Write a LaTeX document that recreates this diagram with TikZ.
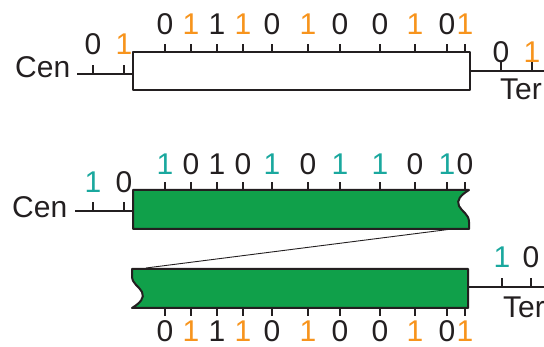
\documentclass[tikz,border=0pt]{standalone}
\usepackage{fontspec}
\setmainfont{Liberation Sans}
\definecolor{ink}{HTML}{231F20}
\definecolor{orng}{HTML}{F7941D}
\definecolor{tealc}{HTML}{1AA89E}
\definecolor{strand}{HTML}{10A04A}
\tikzset{
  lbl/.style={inner sep=0pt, anchor=base, text=ink, font=\fontsize{30}{32}\selectfont},
  bar/.style={draw=ink, line width=2pt, line join=round},
  wire/.style={draw=ink, line width=1.8pt},
  tick/.style={draw=ink, line width=1.5pt},
  link/.style={draw=ink, line width=0.9pt},
}
\begin{document}
\begin{tikzpicture}[x=1pt,y=-1pt]
\useasboundingbox (0,0) rectangle (544,347);

% ---------- top: single white strand ----------
\node[lbl, anchor=base west] (cenA) at (15,78) {Cen};
\node[lbl, anchor=base west] (terA) at (500,100) {Ter};
\coordinate (a0) at (77,74);
\draw[wire] (a0) -- (133,74);
\draw[wire] (470,71) -- (544,71);
\draw[bar, fill=white] (133,52) rectangle (470,90);
\foreach \x in {93,124} \draw[tick] (\x,74) -- (\x,65);
\node[lbl] (a1) at (93,55) {0};
\node[lbl, text=orng] (a2) at (124,55) {1};
\foreach \x in {501,532} \draw[tick] (\x,71) -- (\x,62);
\node[lbl] (a3) at (501,63) {0};
\node[lbl, text=orng] (a4) at (532,63) {1};
\foreach \x/\d/\c [count=\i] in {165/0/ink,191/1/orng,217/1/ink,243/1/orng,272/0/ink,308/1/orng,340/0/ink,380/0/ink,415/1/orng,447/0/ink,465/1/orng} {
  \draw[tick] (\x,52) -- (\x,44);
  \node[lbl, text=\c] (ta\i) at (\x,35) {\d};
}

% ---------- middle: upper green strand ----------
\node[lbl, anchor=base west] (cenB) at (12,218) {Cen};
\draw[wire] (75,211) -- (133,211);
\foreach \x in {93,124} \draw[tick] (\x,211) -- (\x,202);
\node[lbl, text=tealc] (b1) at (93,193) {1};
\node[lbl] (b2) at (124,193) {0};
\draw[bar, fill=strand] (133,190) -- (469,190)
  .. controls (461,195) and (456,200) .. (459,206)
  .. controls (462,212) and (469,214) .. (469,222)
  -- (469,229) -- (133,229) -- cycle;
\foreach \x/\d/\c [count=\i] in {165/1/tealc,191/0/ink,217/1/ink,243/0/ink,272/1/tealc,308/0/ink,340/1/tealc,380/1/tealc,415/0/ink,447/1/tealc,465/0/ink} {
  \draw[tick] (\x,190) -- (\x,182);
  \node[lbl, text=\c] (tb\i) at (\x,175) {\d};
}

% connector between the two green pieces
\coordinate (bEnd) at (452,229);
\coordinate (cStart) at (146,268);
\draw[link] (bEnd) -- (cStart);

% ---------- bottom: lower green strand ----------
\node[lbl, anchor=base west] (terC) at (503,318) {Ter};
\draw[wire] (468,287) -- (544,287);
\foreach \x in {502,531} \draw[tick] (\x,287) -- (\x,278);
\node[lbl, text=tealc] (c1) at (502,268) {1};
\node[lbl] (c2) at (531,268) {0};
\draw[bar, fill=strand] (132,308)
  .. controls (140,303) and (145,298) .. (142,292)
  .. controls (139,286) and (132,284) .. (132,276)
  -- (132,269) -- (468,269) -- (468,308) -- cycle;
\foreach \x/\d/\c [count=\i] in {165/0/ink,191/1/orng,217/1/ink,243/1/orng,272/0/ink,308/1/orng,340/0/ink,380/0/ink,415/1/orng,447/0/ink,465/1/orng} {
  \draw[tick] (\x,308) -- (\x,316);
  \node[lbl, text=\c] (tc\i) at (\x,342) {\d};
}
\end{tikzpicture}
\end{document}
